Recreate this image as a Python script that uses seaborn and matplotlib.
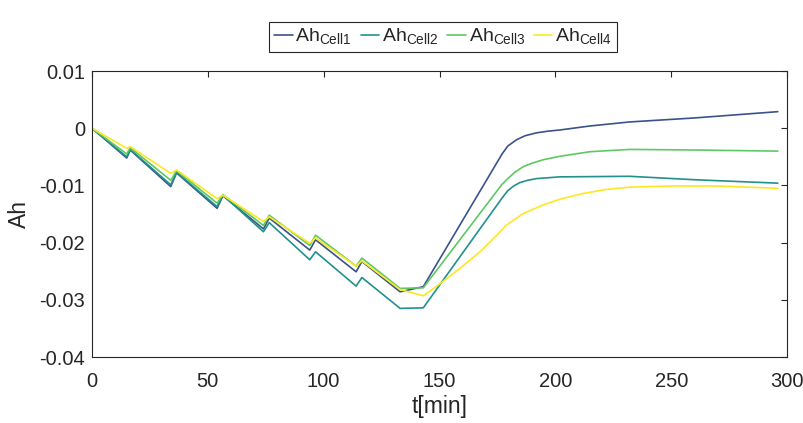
import numpy as np
import matplotlib
matplotlib.use('Agg')
import matplotlib.pyplot as plt
import pandas as pd
import seaborn as sns

# Values (t in minutes, Ah)
t_cell1 = [0, 15, 16.5, 34, 36.5, 54, 56.5, 74, 76.5, 94, 96.5, 114, 116.5, 133, 143,
           177, 179.5, 183.3, 187, 191.9, 197, 202, 215, 232, 260, 296]
ah_cell1 = [0, -0.0052, -0.0038, -0.0102, -0.0078, -0.0140, -0.0118, -0.0176, -0.0157,
            -0.0213, -0.0195, -0.0251, -0.0233, -0.0286, -0.0277,
            -0.0045, -0.0031, -0.0020, -0.0013, -0.0008, -0.0005, -0.0003, 0.0004, 0.0011, 0.0018, 0.0029]

t_cell2 = [0, 15, 16.5, 34, 36.5, 54, 56.5, 74, 76.5, 94, 96.5, 114, 116.5, 133, 143,
           177, 179.5, 182, 184.7, 188, 191.9, 202, 232, 260, 296]
ah_cell2 = [0, -0.0050, -0.0037, -0.0099, -0.0077, -0.0137, -0.0117, -0.0181, -0.0165,
            -0.0230, -0.0216, -0.0276, -0.0261, -0.0315, -0.0314,
            -0.0122, -0.0109, -0.0101, -0.0095, -0.0091, -0.0088, -0.0085, -0.0084, -0.0090, -0.0096]

t_cell3 = [0, 15, 16.5, 34, 36.5, 54, 56.5, 74, 76.5, 94, 96.5, 114, 116.5, 133, 143,
           177, 179.5, 182.5, 186.2, 190, 194.8, 202, 215, 232, 260, 296]
ah_cell3 = [0, -0.0045, -0.0034, -0.0091, -0.0074, -0.0131, -0.0116, -0.0170, -0.0152,
            -0.0205, -0.0187, -0.0241, -0.0227, -0.0280, -0.0279,
            -0.0098, -0.0088, -0.0077, -0.0067, -0.0061, -0.0055, -0.0049, -0.0041, -0.0037, -0.0038, -0.0040]

t_cell4 = [0, 15, 16.5, 34, 36.5, 54, 56.5, 74, 76.5, 94, 96.5, 114, 116.5, 133, 143,
           150.2, 158.8, 167.5, 174.7, 179, 186.2, 194.8, 202, 212, 222, 232, 250, 270, 296]
ah_cell4 = [0, -0.0035, -0.0032, -0.0079, -0.0073, -0.0123, -0.0117, -0.0163, -0.0155,
            -0.0201, -0.0192, -0.0241, -0.0232, -0.0282, -0.0293,
            -0.0272, -0.0245, -0.0216, -0.0187, -0.0169, -0.0149, -0.0134, -0.0124, -0.0114,
            -0.0107, -0.0103, -0.0101, -0.0101, -0.0105]

labels = [r'Ah$_{\mathrm{Cell1}}$', r'Ah$_{\mathrm{Cell2}}$',
          r'Ah$_{\mathrm{Cell3}}$', r'Ah$_{\mathrm{Cell4}}$']
colors = ['#3b528b', '#21918c', '#5ec962', '#fde725']

x_ticks = [0, 50, 100, 150, 200, 250, 300]
y_ticks = [-0.04, -0.03, -0.02, -0.01, 0, 0.01]
y_ticklabels = ['-0.04', '-0.03', '-0.02', '-0.01', '0', '0.01']

sns.set_style('white')
plt.rcParams['font.family'] = ['Liberation Sans', 'DejaVu Sans']
plt.rcParams['mathtext.fontset'] = 'custom'
plt.rcParams['mathtext.rm'] = 'Liberation Sans'
plt.rcParams['axes.unicode_minus'] = False

f, ax = plt.subplots(figsize=(8.04, 4.23), dpi=100)
f.subplots_adjust(left=0.1144, right=0.9789, bottom=0.156, top=0.832)

series = [(t_cell1, ah_cell1), (t_cell2, ah_cell2), (t_cell3, ah_cell3), (t_cell4, ah_cell4)]
for (t, ah), lab, col in zip(series, labels, colors):
    sns.lineplot(x=t, y=ah, color=col, label=lab, linewidth=1.2, sort=False, ax=ax)

ax.set_xlim(0, 300)
ax.set_ylim(-0.04, 0.01)
ax.set_xticks(x_ticks)
ax.set_yticks(y_ticks)
ax.set_yticklabels(y_ticklabels)
ax.tick_params(direction='in', top=True, right=True, labelsize=14.5,
               colors='#262626', length=4, width=0.8, pad=5)
ax.tick_params(axis='x', pad=11)
for s in ax.spines.values():
    s.set_color('#262626')
    s.set_linewidth(0.8)

ax.set_xlabel('t[min]', fontsize=16.5, color='#262626', labelpad=3)
ax.set_ylabel('Ah', fontsize=16.5, color='#262626', labelpad=6)

ax.get_legend().remove()
leg = f.legend(loc='upper center', bbox_to_anchor=(0.551, 0.948), ncol=4,
               fontsize=14, handlelength=0.95, handletextpad=0.15,
               columnspacing=0.45, borderpad=0.25, borderaxespad=0,
               fancybox=False, edgecolor='#262626', framealpha=1)
leg.get_frame().set_linewidth(0.8)

plt.savefig('out.png', dpi=100)
